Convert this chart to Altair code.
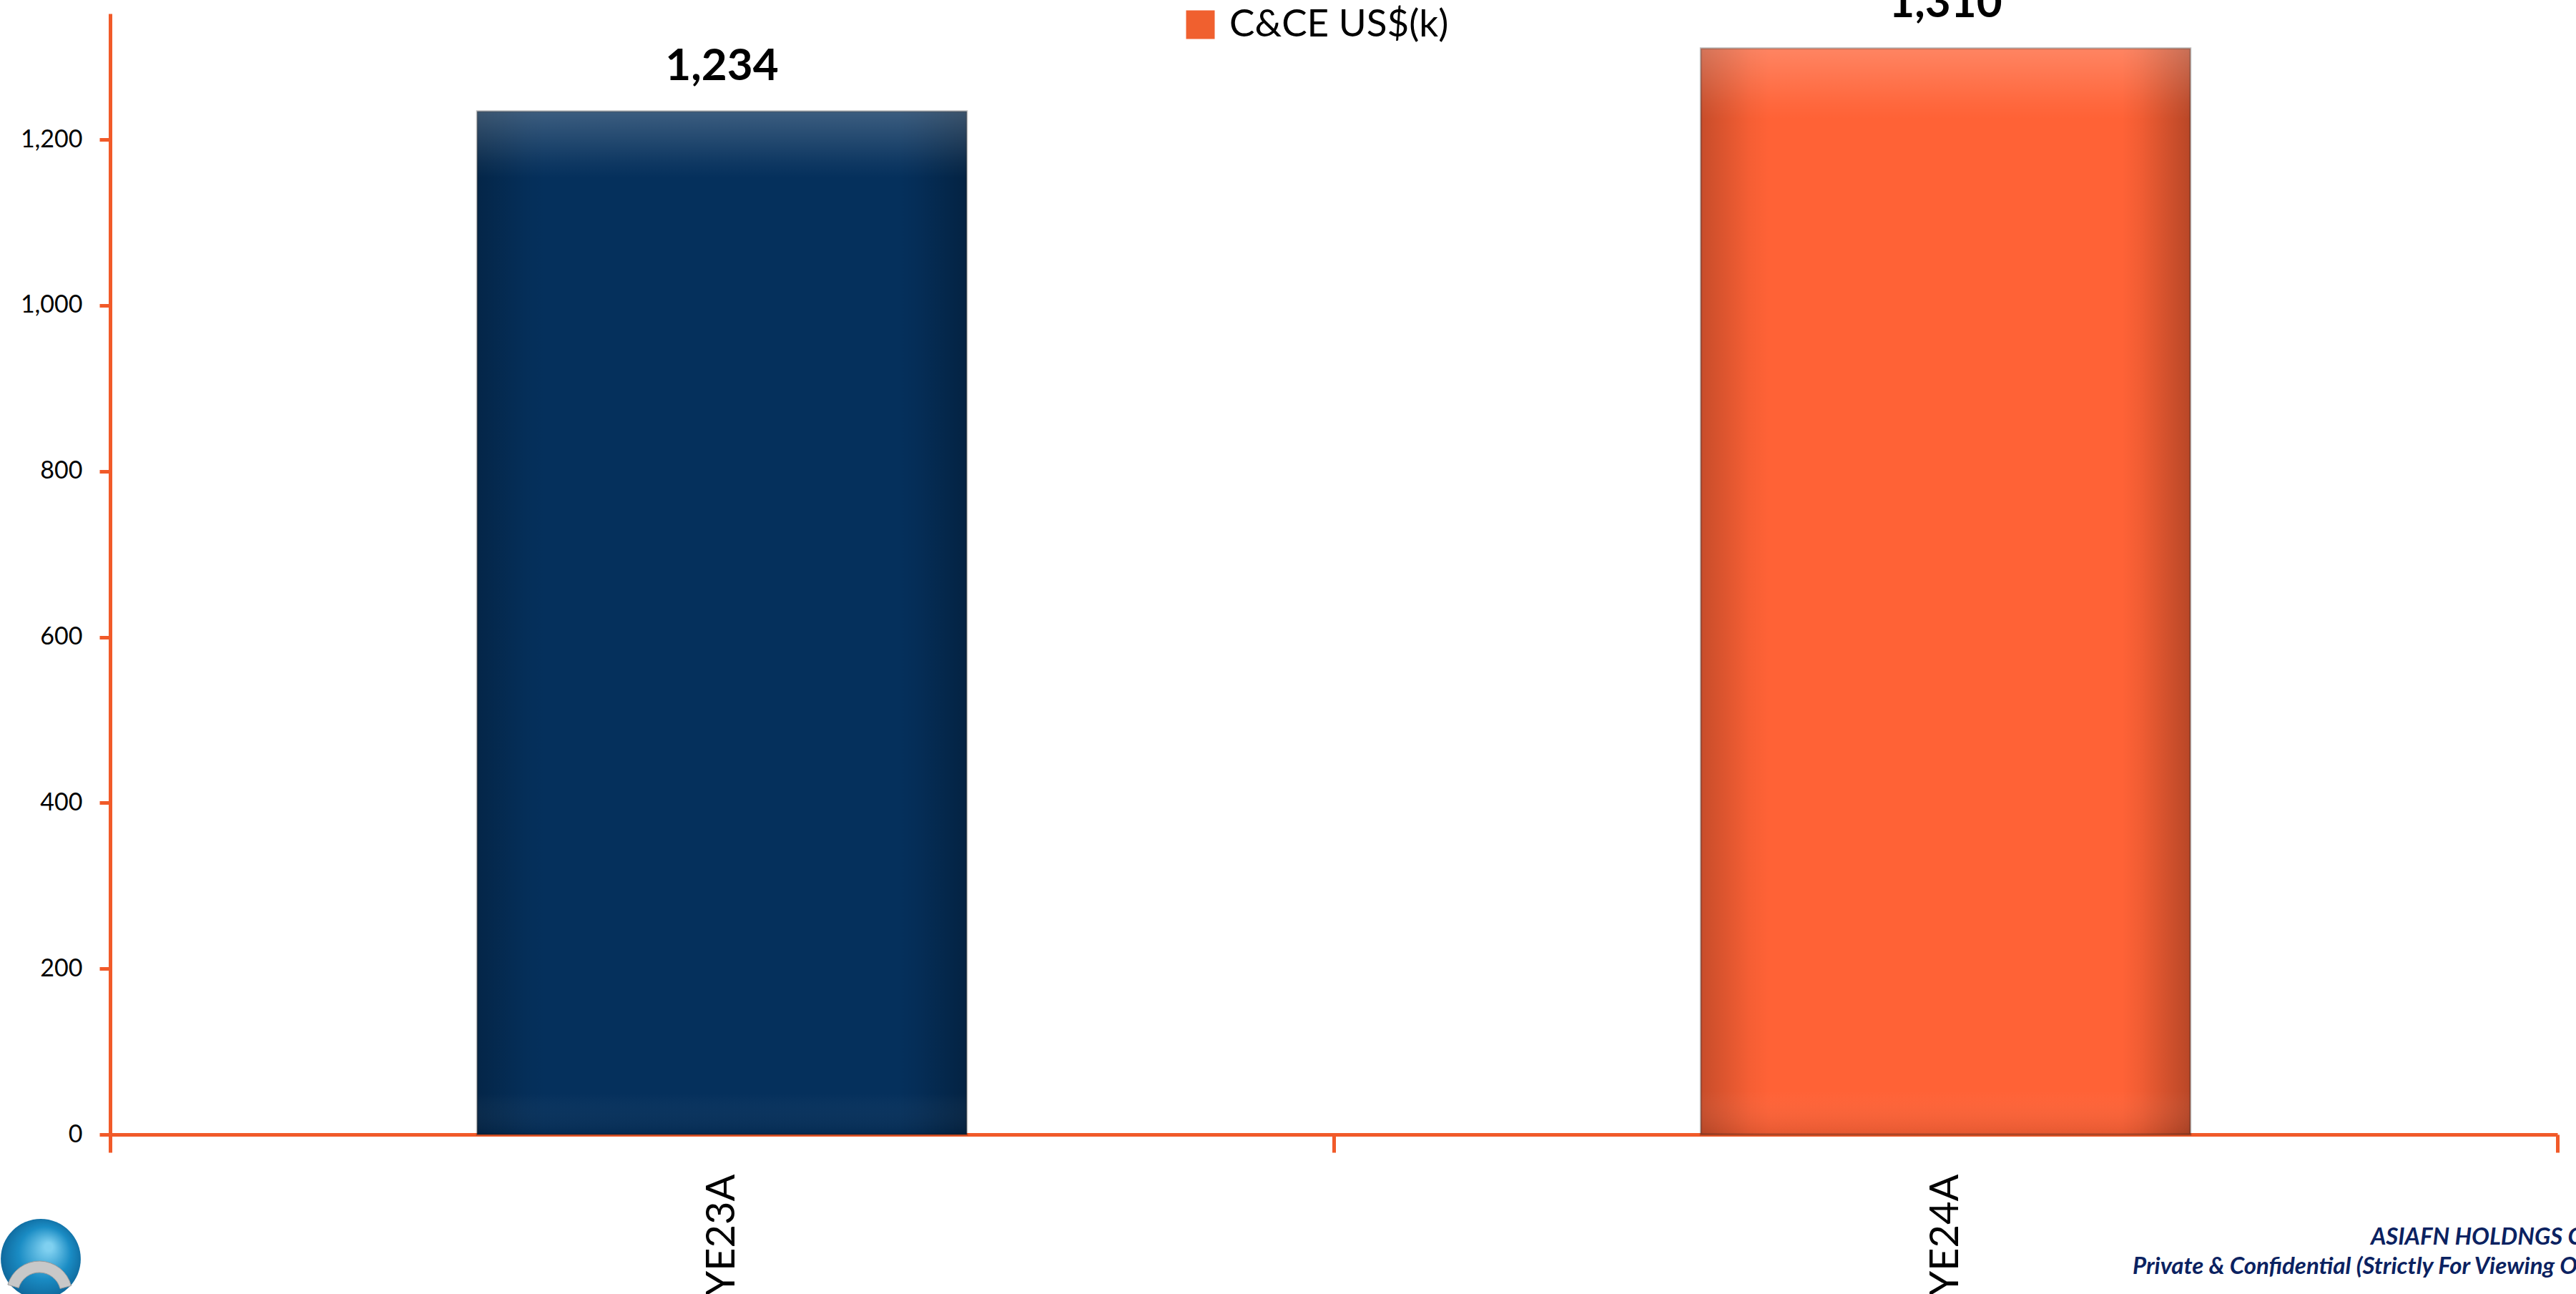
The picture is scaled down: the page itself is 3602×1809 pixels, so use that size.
import altair as alt
import pandas as pd

categories = ["YE23A", "YE24A"]
values = [1234, 1310]
bar_colors = ["#05305C", "#FF6236"]
series_name = "C&CE US$(k)"
y_ticks = [0, 200, 400, 600, 800, 1000, 1200]
footer_lines = ["ASIAFN HOLDNGS CO., LTD.", "Private & Confidential (Strictly For Viewing Only)"]

AXIS = "#F15A29"
FONT = "Lato"

df = pd.DataFrame({"cat": categories, "val": values, "fill": bar_colors, "series": [series_name] * 2})

W, H = 3422, 1567
x = alt.X("cat:N", sort=categories, title=None,
          scale=alt.Scale(paddingInner=0, paddingOuter=0),
          axis=alt.Axis(labelAngle=270, labelAlign="right", labelBaseline="middle",
                        labelFontSize=56, labelFont=FONT, labelColor="black", labelPadding=30,
                        tickBand="extent", tickSize=25, tickWidth=5, tickColor=AXIS,
                        domainColor=AXIS, domainWidth=5, grid=False))
y = alt.Y("val:Q", title=None,
          scale=alt.Scale(domain=[0, 1352], nice=False),
          axis=alt.Axis(values=y_ticks, format=",d", labelFontSize=34, labelFont=FONT,
                        labelColor="black", labelPadding=24, tickSize=15, tickWidth=5,
                        tickColor=AXIS, domainColor=AXIS, domainWidth=5, grid=False))

BW = alt.RelativeBandSize(0.4)
base = alt.Chart(df)

bars = base.mark_bar(width=BW, stroke="#1b1b1b", strokeOpacity=0.3, strokeWidth=3).encode(
    x=x, y=y, fill=alt.Fill("fill:N", scale=None))

side_shade = base.mark_bar(width=BW, color=alt.LinearGradient(
    gradient="linear", x1=0, y1=0, x2=1, y2=0,
    stops=[alt.GradientStop(color="rgba(0,0,0,0.22)", offset=0),
           alt.GradientStop(color="rgba(0,0,0,0.04)", offset=0.1),
           alt.GradientStop(color="rgba(0,0,0,0)", offset=0.14),
           alt.GradientStop(color="rgba(0,0,0,0)", offset=0.86),
           alt.GradientStop(color="rgba(0,0,0,0.06)", offset=0.9),
           alt.GradientStop(color="rgba(0,0,0,0.28)", offset=1)])).encode(x=x, y=y)

top_shine = base.mark_bar(width=BW, color=alt.LinearGradient(
    gradient="linear", x1=0, y1=0, x2=0, y2=1,
    stops=[alt.GradientStop(color="rgba(255,255,255,0.22)", offset=0),
           alt.GradientStop(color="rgba(255,255,255,0.04)", offset=0.05),
           alt.GradientStop(color="rgba(255,255,255,0)", offset=0.065),
           alt.GradientStop(color="rgba(255,255,255,0)", offset=0.96),
           alt.GradientStop(color="rgba(0,0,0,0.1)", offset=1)])).encode(x=x, y=y)

labels = base.mark_text(fontSize=62, fontWeight="bold", font=FONT, dy=-44,
                        baseline="alphabetic", color="black").encode(
    x=x, y=y, text=alt.Text("val:Q", format=",d"))

legend_layer = base.mark_point(opacity=0, filled=True, shape="square").encode(
    x=x, y=y,
    color=alt.Color("series:N", scale=alt.Scale(range=["#F0602F"]),
                    legend=alt.Legend(title=None, orient="none", legendX=1498, legendY=-11,
                                      symbolType="square", symbolSize=1600, symbolOpacity=1,
                                      symbolStrokeWidth=0, labelFontSize=53, labelFont=FONT,
                                      labelColor="black", labelOffset=14, labelLimit=0)))

foot_df = pd.DataFrame({"t": footer_lines, "xp": [3161, 2828], "yp": [1711, 1752]})
footer = alt.Chart(foot_df).mark_text(align="left", baseline="middle", fontSize=33,
                                      fontStyle="italic", fontWeight="bold",
                                      font="Lato", color="#0B2261").encode(
    x=alt.X("xp:Q", scale=None), y=alt.Y("yp:Q", scale=None), text="t:N")

logo_df = pd.DataFrame({"a": [0]})
logo = alt.Chart(logo_df).mark_point(
    shape="circle", size=12500, filled=True, opacity=1,
    fill=alt.RadialGradient(gradient="radial", x1=0.6, y1=0.35, x2=0.5, y2=0.5, r1=0.05, r2=0.6,
                            stops=[alt.GradientStop(color="#7FD0F0", offset=0),
                                   alt.GradientStop(color="#1A8CC4", offset=0.5),
                                   alt.GradientStop(color="#0B5A8C", offset=1)])).encode(
    x=alt.value(-97), y=alt.value(1741))

swoosh = alt.Chart(logo_df).mark_arc(innerRadius=30, outerRadius=46, color="#C8C8C8",
                                      stroke="#9a9a9a", strokeWidth=1).encode(
    x=alt.value(-99), y=alt.value(1790), theta=alt.value(5.0), theta2=alt.value(7.6))

chart = alt.layer(bars, side_shade, top_shine, labels, legend_layer, footer, logo, swoosh).properties(
    width=W, height=H,
    background="white",
    autosize=alt.AutoSizeParams(type="none"),
    padding={"left": 154, "top": 19, "right": 26, "bottom": 223},
).configure_view(stroke=None, strokeWidth=0)

chart.save("out.html", embed_options={"renderer": "svg", "actions": False})
